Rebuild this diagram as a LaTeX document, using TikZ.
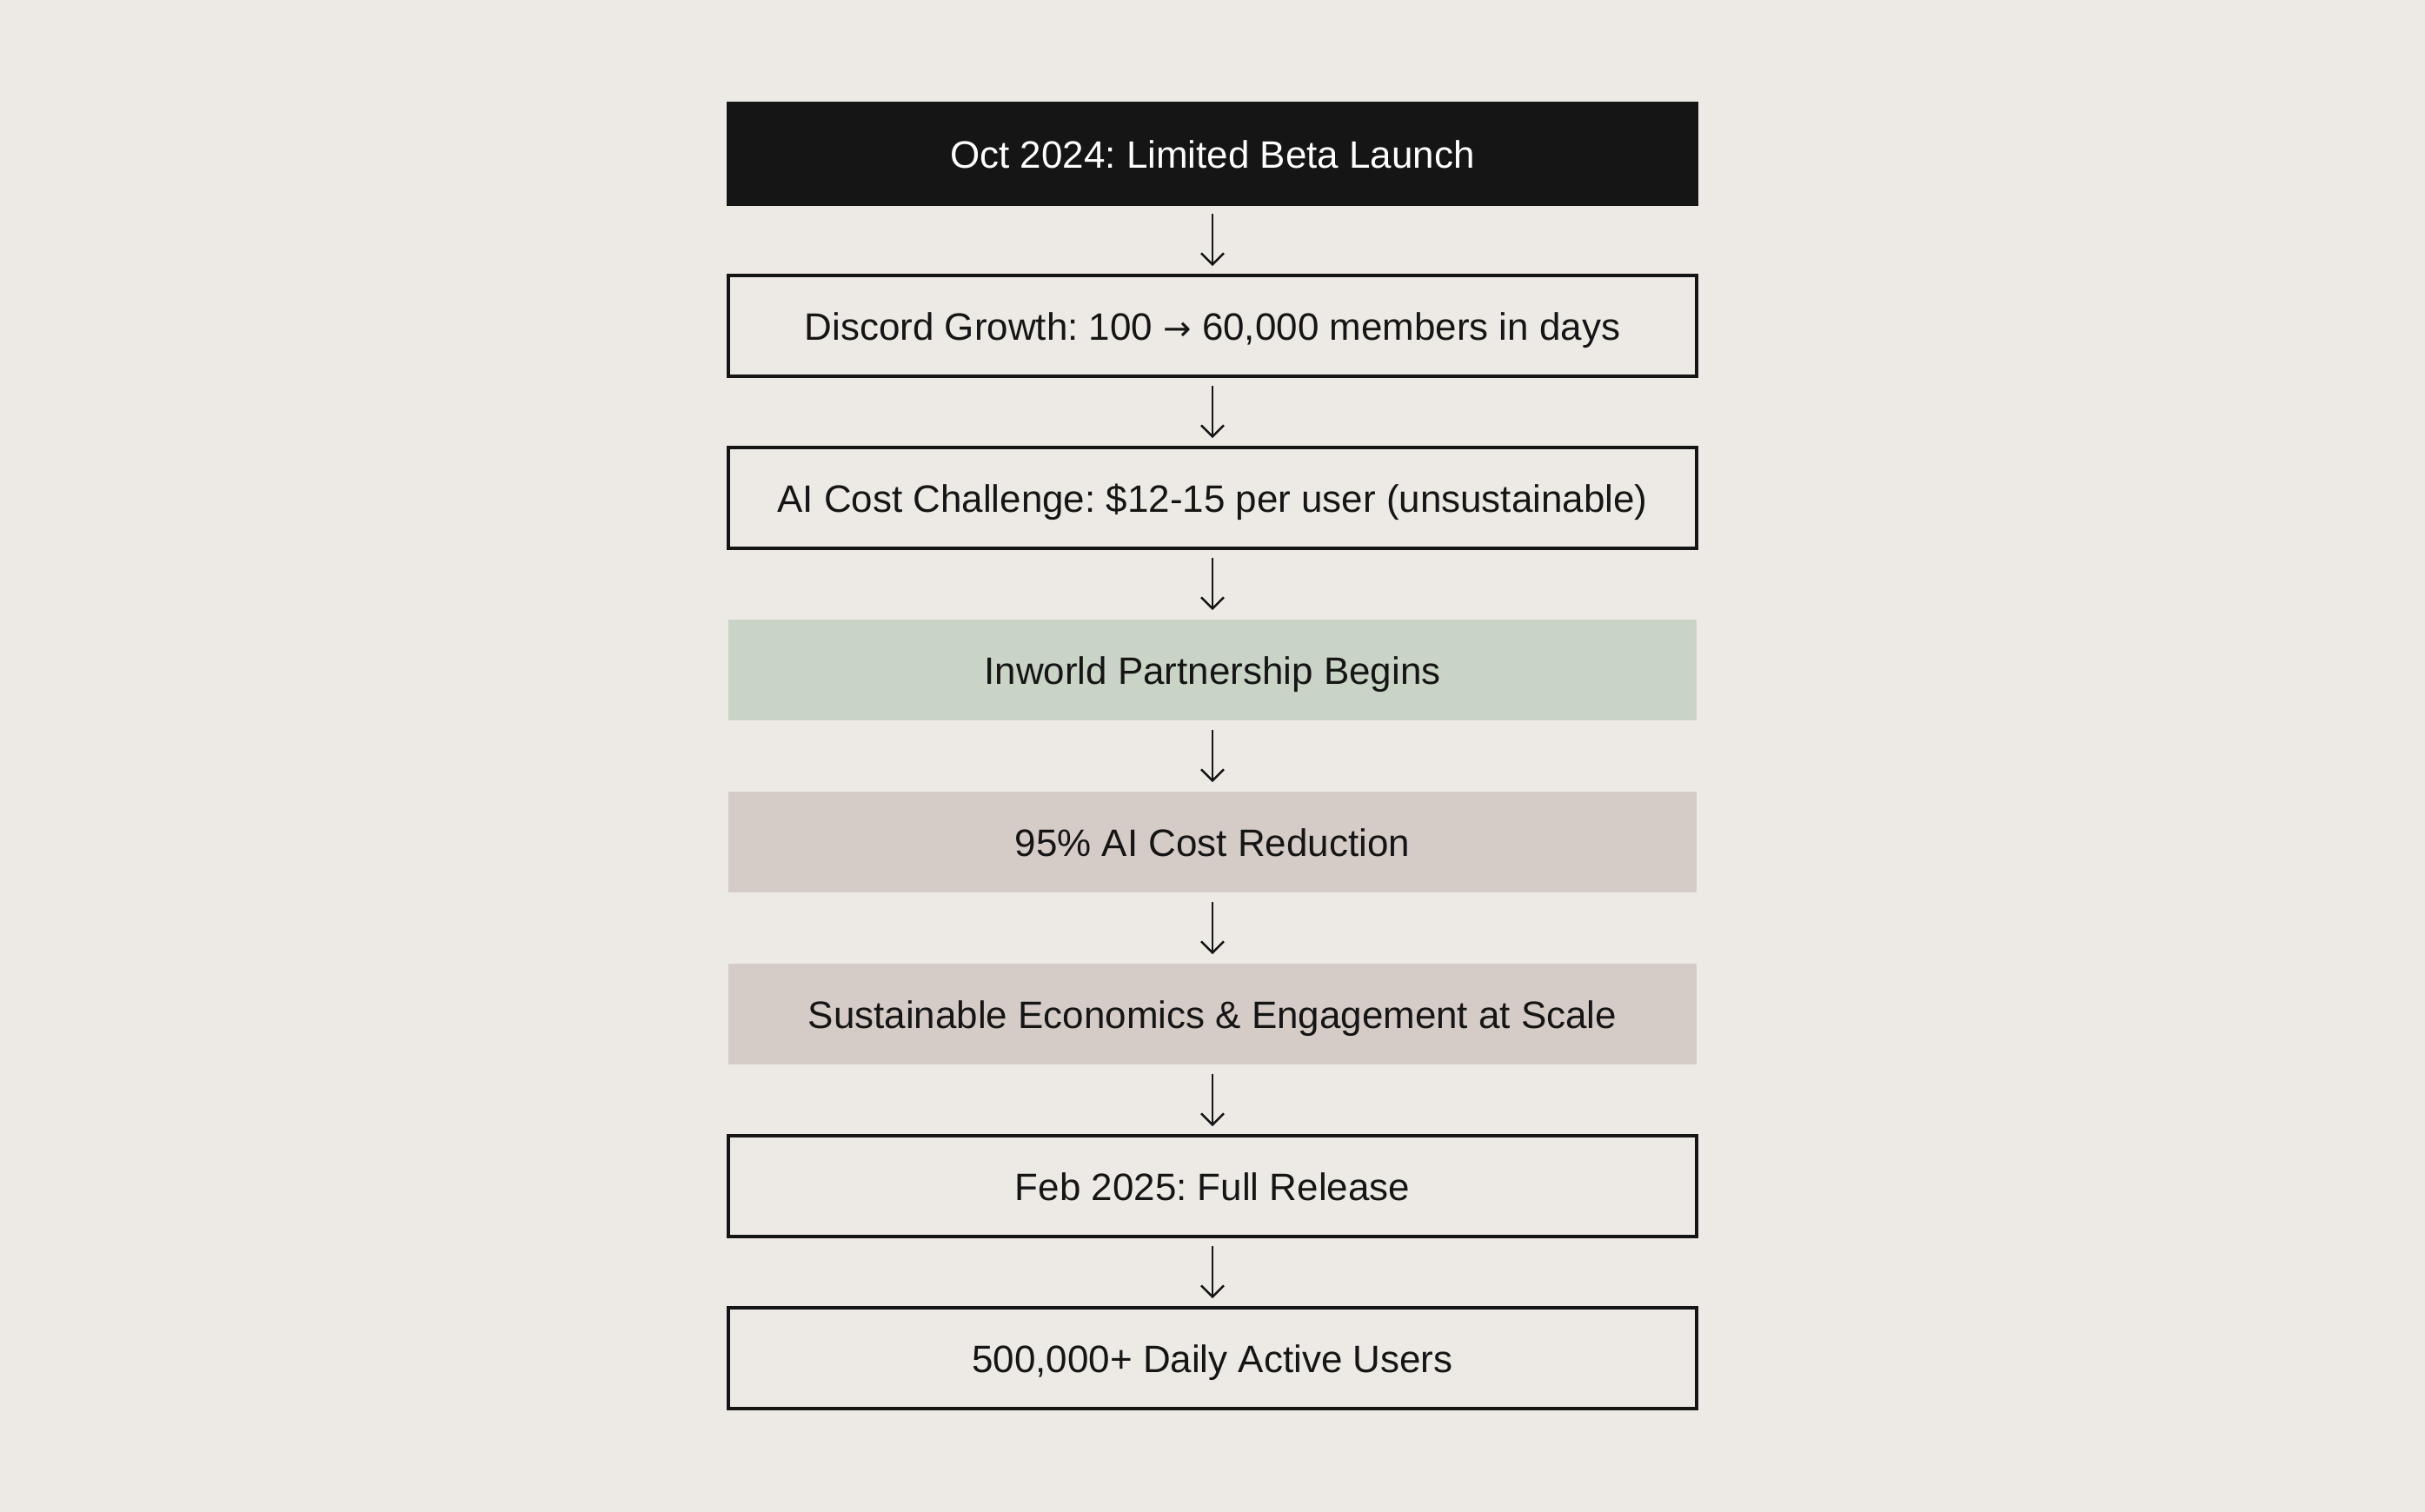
\documentclass[tikz,border=0pt]{standalone}
\usepackage{fontspec}
\setmainfont{Liberation Sans}
\newfontfamily\arrowfont{DejaVu Sans}
\usetikzlibrary{arrows.meta}
\definecolor{bg}{HTML}{EDEAE5}
\definecolor{ink}{HTML}{161515}
\definecolor{sage}{HTML}{C9D4C7}
\definecolor{taupe}{HTML}{D5CCC8}
\frenchspacing

\begin{document}
\begin{tikzpicture}[v/.append style={draw=ink,line width=1.1pt,fill=bg,text=ink,inner sep=0pt,minimum width=11.14cm,minimum height=1.16cm,text height=11pt,text depth=1.5pt,font=\fontsize{12.5}{15}\selectfont},
					a/.append style={-{Straight Barb[length=1.3mm,width=2.6mm,line width=.7pt]},line width=.7pt,color=ink,shorten <=.09cm,shorten >=.09cm}]
\fill[bg] (0,0) rectangle (27.9,17.4);
\node[v,fill=ink,text=white] (1) at (13.95,15.63) {Oct 2024: Limited Beta Launch};
\node[v] (2) at (13.95,13.65) {Discord Growth: 100 {\arrowfont\fontsize{11}{14}\selectfont →} 60,000 members in days};
\node[v] (3) at (13.95,11.67) {AI Cost Challenge: \$12-15 per user (unsustainable)};
\node[v,draw=none,fill=sage] (4) at (13.95,9.69) {Inworld Partnership Begins};
\node[v,draw=none,fill=taupe] (5) at (13.95,7.71) {95\% AI Cost Reduction};
\node[v,draw=none,fill=taupe] (6) at (13.95,5.73) {Sustainable Economics \& Engagement at Scale};
\node[v] (7) at (13.95,3.75) {Feb 2025: Full Release};
\node[v] (8) at (13.95,1.77) {500,000+ Daily Active Users};
\draw[a] (1) -- (2);
\draw[a] (2) -- (3);
\draw[a] (3) -- (4);
\draw[a] (4) -- (5);
\draw[a] (5) -- (6);
\draw[a] (6) -- (7);
\draw[a] (7) -- (8);
\end{tikzpicture}
\end{document}
